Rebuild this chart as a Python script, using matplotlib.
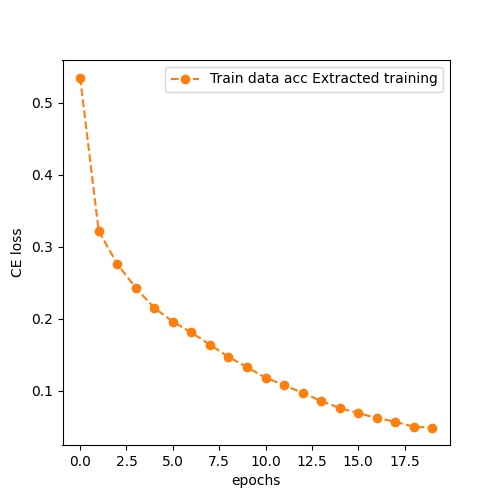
import matplotlib
matplotlib.use('Agg')
import matplotlib.pyplot as plt

epochs = list(range(20))
train_loss = [0.535, 0.322, 0.276, 0.243, 0.215, 0.196, 0.181, 0.164, 0.147, 0.133,
              0.118, 0.108, 0.097, 0.086, 0.076, 0.069, 0.062, 0.057, 0.050, 0.049]

fig, ax = plt.subplots(figsize=(5, 5), dpi=100)
ax.plot(epochs, train_loss, 'o--', color='tab:orange', label='Train data acc Extracted training')
ax.set_xlabel('epochs')
ax.set_ylabel('CE loss')
ax.legend()
fig.savefig('out.png')
